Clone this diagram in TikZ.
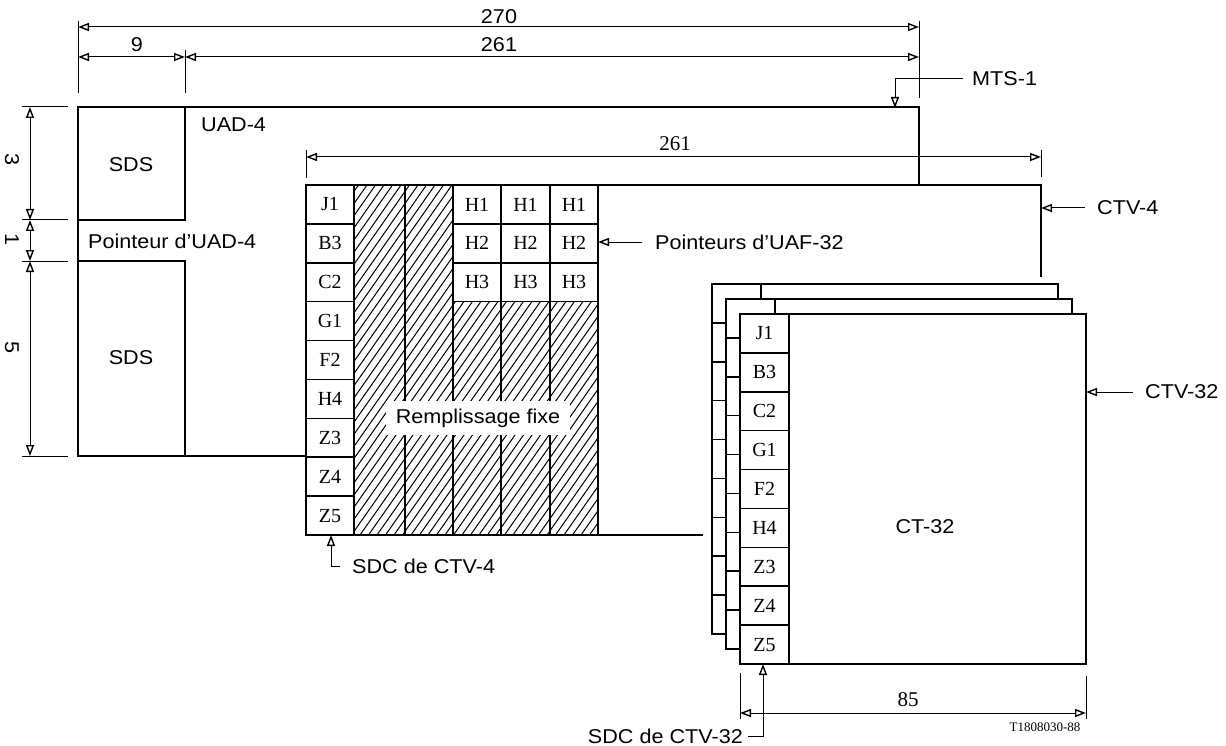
\documentclass[tikz,border=0pt]{standalone}
\usepackage{fontspec}
\setmainfont{Liberation Serif}
\newfontfamily\lab[FakeStretch=1.08]{Liberation Sans}
\usetikzlibrary{arrows.meta}
\tikzset{
  ln/.style={line width=1.5pt},
  ext/.style={line width=1pt},
  tip/.tip={Triangle[open,length=11pt,width=8pt,line width=1.4pt]},
  dim/.style={line width=1pt, arrows={tip-tip}},
  lead/.style={line width=1pt, arrows={-tip}},
  lbl/.style={font=\lab\fontsize{20}{23}\selectfont, inner sep=0pt},
  cell/.style={font=\fontsize{20}{22}\selectfont, inner sep=0pt},
  num/.style={font=\fontsize{21}{24}\selectfont, inner sep=0pt},
  hline/.style={line width=1pt},
}
\begin{document}
\begin{tikzpicture}[x=1pt,y=-1pt]
\useasboundingbox (0,0) rectangle (1226,746);

% ---------- top dimensions ----------
\draw[dim] (78,27) -- (919,27);
\draw[dim] (78,57) -- (185,57);
\draw[dim] (185,57) -- (919,57);
\draw[ext] (78,21) -- (78,93);
\draw[ext] (185,50) -- (185,93);
\draw[ext] (919,21) -- (919,98);
\node[lbl] (d270) at (499,17) {270};
\node[lbl] (d9) at (137,45) {9};
\node[lbl] (d261a) at (499,45) {261};

% ---------- UAD-4 ----------
\fill[white] (78,107) rectangle (919,456);
\draw[ln] (919,185) -- (919,107) -- (78,107) -- (78,456) -- (306,456);
\draw[ln] (78,220) -| (185,107);
\draw[ln] (78,261) -| (185,456);
\node[lbl] (sds1) at (131,165) {SDS};
\node[lbl] (sds2) at (131,358) {SDS};
\node[lbl,anchor=west] (uad) at (201,125) {UAD-4};
\node[lbl,anchor=west] (ptruad) at (88,241) {Pointeur d’UAD-4};

% MTS-1
\node[lbl,anchor=west] (mts) at (972,79) {MTS-1};
\coordinate (mtsT) at (895,108);
\draw[lead] ([xshift=-9pt]mts.west) -| (mtsT);

% vertical dimensions
\draw[ext] (22,107) -- (68,107);
\draw[ext] (22,220) -- (68,220);
\draw[ext] (22,261) -- (68,261);
\draw[ext] (22,456) -- (68,456);
\draw[dim] (30,107) -- (30,220);
\draw[dim] (30,220) -- (30,261);
\draw[dim] (30,261) -- (30,456);
\node[lbl,rotate=-90] (v3) at (12,160) {3};
\node[lbl,rotate=-90] (v1) at (12,240) {1};
\node[lbl,rotate=-90] (v5) at (12,348) {5};

% ---------- CTV-4 ----------
\fill[white] (306,185) rectangle (1041,535);
\begin{scope}
  \clip (354,185) rectangle (453,535) (453,301.7) rectangle (598,535);
  \foreach \i in {0,...,62}
    \draw[hline] ({105+8.5*\i},535) -- ({105+8.5*\i+245},185);
\end{scope}
\foreach \x in {354,405,453,501,550,598} \draw[ln] (\x,185) -- (\x,535);
\foreach \r in {1,...,8} \draw[ln] (306,{185+38.89*\r}) -- (354,{185+38.89*\r});
\foreach \r in {1,2,3} \draw[ln] (453,{185+38.89*\r}) -- (598,{185+38.89*\r});
\draw[ln] (1041,277) -- (1041,185) -- (306,185) -- (306,535) -- (703,535);
\foreach \t [count=\i] in {J1,B3,C2,G1,F2,H4,Z3,Z4,Z5}
  \node[cell] (a\i) at (330,{185+38.89*(\i-0.5)}) {\t};
\foreach \c/\cx in {1/477,2/525.5,3/574}{
  \node[cell] (h1\c) at (\cx,{185+38.89*0.5}) {H1};
  \node[cell] (h2\c) at (\cx,{185+38.89*1.5}) {H2};
  \node[cell] (h3\c) at (\cx,{185+38.89*2.5}) {H3};
}
\node[lbl,fill=white,inner xsep=10pt,inner ysep=8pt] (remp) at (478,418) {Remplissage fixe};

\node[lbl,anchor=west] (ptr) at (655,242) {Pointeurs d’UAF-32};
\coordinate (h2e) at (598,242);
\draw[lead] ([xshift=-13pt]ptr.west) -- (h2e);

\draw[dim] (306,157) -- (1041,157);
\draw[ext] (306,150) -- (306,178);
\draw[ext] (1041,150) -- (1041,177);
\node[num] (d261b) at (675,144) {261};

\node[lbl,anchor=west] (ctv4) at (1097,208) {CTV-4};
\coordinate (ctv4e) at (1041,208);
\draw[lead] ([xshift=-12pt]ctv4.west) -- (ctv4e);

\node[lbl,anchor=west] (sdc4) at (352,566) {SDC de CTV-4};
\coordinate (sdc4t) at (331,535);
\draw[lead] ([xshift=-12pt]sdc4.west) -| (sdc4t);

% ---------- CT-32 stack ----------
\foreach \k in {2,1,0}{
  \begin{scope}[shift={(-14*\k,-15*\k)}]
    \filldraw[ln,fill=white] (740,314) rectangle (1086,664);
    \draw[ln] (789,314) -- (789,664);
    \foreach \r in {1,...,8} \draw[ln] (740,{314+38.89*\r}) -- (789,{314+38.89*\r});
  \end{scope}
}
\foreach \t [count=\i] in {J1,B3,C2,G1,F2,H4,Z3,Z4,Z5}
  \node[cell] (b\i) at (764.5,{314+38.89*(\i-0.5)}) {\t};
\node[lbl] (ct32) at (925,527) {CT-32};

\node[lbl,anchor=west] (ctv32) at (1145,392) {CTV-32};
\coordinate (ctv32e) at (1086,392);
\draw[lead] ([xshift=-12pt]ctv32.west) -- (ctv32e);

\draw[dim] (740,713) -- (1086,713);
\draw[ext] (740,673) -- (740,719);
\draw[ext] (1086,676) -- (1086,719);
\node[num] (d85) at (908,700) {85};

\node[lbl,anchor=east] (sdc32) at (743,736) {SDC de CTV-32};
\coordinate (sdc32t) at (763,664);
\draw[lead] ([xshift=5pt]sdc32.east) -| (sdc32t);

\node[font=\fontsize{13}{14}\selectfont,inner sep=0pt] (ref) at (1045,727) {T1808030-88};
\end{tikzpicture}
\end{document}
